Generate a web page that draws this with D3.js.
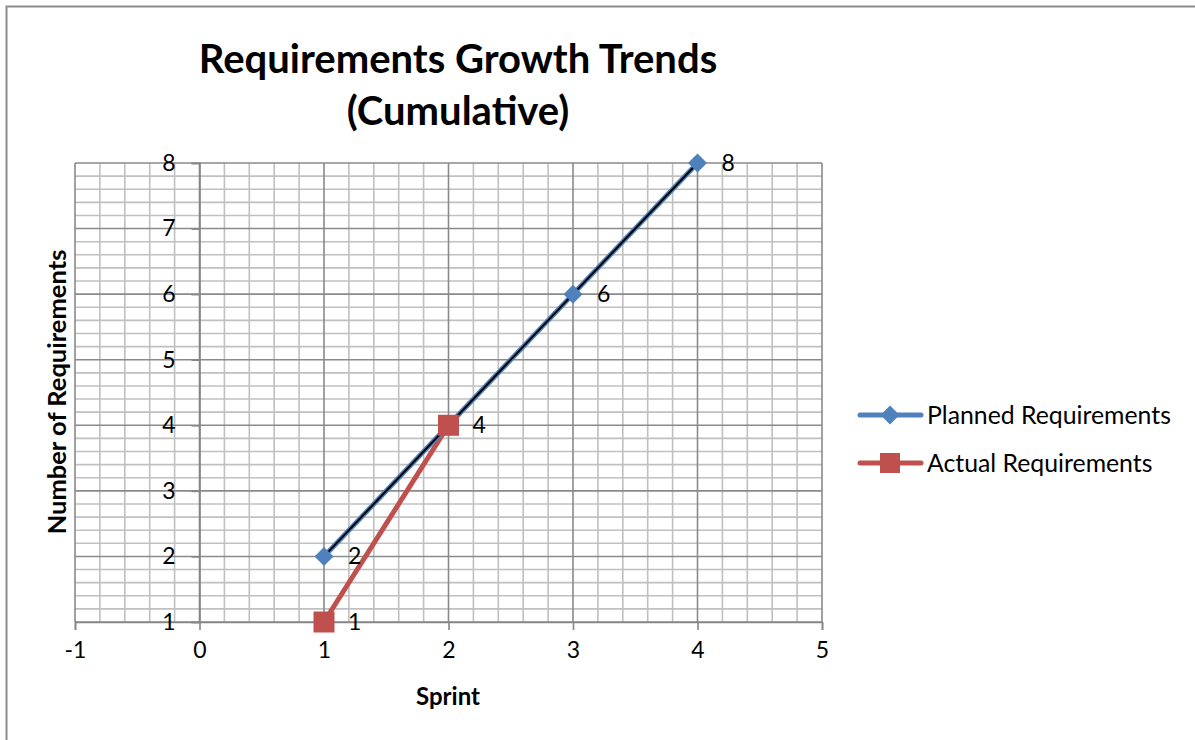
<!DOCTYPE html>
<html>
<head>
<meta charset="utf-8">
<script src="https://cdn.jsdelivr.net/npm/d3@7"></script>
<style>
  html, body { margin: 0; padding: 0; background: #fff; }
  svg { display: block; font-family: Lato, "Open Sans", sans-serif; }
</style>
</head>
<body>
<svg id="chart" width="1195" height="740"></svg>
<script>
// Sprint numbers and cumulative requirement counts
const plannedSprints = [1, 2, 3, 4];
const plannedValues = [2, 4, 6, 8];
const actualSprints = [1, 2];
const actualValues = [1, 4];
const xTickValues = [-1, 0, 1, 2, 3, 4, 5];
const yTickValues = [1, 2, 3, 4, 5, 6, 7, 8];
const seriesNames = ["Planned Requirements", "Actual Requirements"];

const planned = plannedSprints.map((s, i) => ({ x: s, y: plannedValues[i] }));
const actual = actualSprints.map((s, i) => ({ x: s, y: actualValues[i] }));

const blue = "#4f81bd";
const red = "#c0504d";

const svg = d3.select("#chart");

// outer frame
svg.append("rect")
  .attr("x", 6.5).attr("y", 6.5)
  .attr("width", 1200).attr("height", 800)
  .attr("fill", "none").attr("stroke", "#8c8c8c").attr("stroke-width", 2);

const x = d3.scaleLinear().domain([-1, 5]).range([75, 822]);
const y = d3.scaleLinear().domain([1, 8]).range([622, 163]);

// minor grid every 0.2
const xMinor = d3.range(-1, 5.0001, 0.2).map(v => +v.toFixed(1));
const yMinor = d3.range(1, 8.0001, 0.2).map(v => +v.toFixed(1));
const isInt = v => Math.abs(v - Math.round(v)) < 1e-6;

const grid = svg.append("g");
grid.selectAll("line.vminor").data(xMinor.filter(v => !isInt(v)))
  .join("line").attr("class", "vminor")
  .attr("x1", d => x(d)).attr("x2", d => x(d))
  .attr("y1", y(8)).attr("y2", y(1))
  .attr("stroke", "#c0c0c0").attr("stroke-width", 1.6);
grid.selectAll("line.hminor").data(yMinor.filter(v => !isInt(v)))
  .join("line").attr("class", "hminor")
  .attr("x1", x(-1)).attr("x2", x(5))
  .attr("y1", d => y(d)).attr("y2", d => y(d))
  .attr("stroke", "#c0c0c0").attr("stroke-width", 1.6);
grid.selectAll("line.vmajor").data(xTickValues)
  .join("line").attr("class", "vmajor")
  .attr("x1", d => x(d)).attr("x2", d => x(d))
  .attr("y1", y(8)).attr("y2", y(1))
  .attr("stroke", "#8a8a8a").attr("stroke-width", 1.6);
grid.selectAll("line.hmajor").data(yTickValues)
  .join("line").attr("class", "hmajor")
  .attr("x1", x(-1)).attr("x2", x(5))
  .attr("y1", d => y(d)).attr("y2", d => y(d))
  .attr("stroke", "#8a8a8a").attr("stroke-width", 1.6);

// x axis along the bottom, y axis crossing at sprint 0
const xAxis = d3.axisBottom(x).tickValues(xTickValues).tickSize(8).tickPadding(12)
  .tickFormat(d => String(d));
const gx = svg.append("g").attr("transform", `translate(0,${y(1)})`).call(xAxis);
gx.select(".domain").attr("stroke", "#868686").attr("stroke-width", 1.6);
gx.selectAll(".tick line").attr("stroke", "#868686").attr("stroke-width", 1.6);
gx.selectAll(".tick text").attr("font-size", 23).attr("fill", "#000")
  .attr("font-family", "Lato, sans-serif");

const yAxis = d3.axisLeft(y).tickValues(yTickValues).tickSize(8).tickPadding(16)
  .tickFormat(d => String(d));
const gy = svg.append("g").attr("transform", `translate(${x(0)},0)`).call(yAxis);
gy.select(".domain").attr("stroke", "#868686").attr("stroke-width", 1.6);
gy.selectAll(".tick line").attr("stroke", "#868686").attr("stroke-width", 1.6);
gy.selectAll(".tick text").attr("font-size", 23).attr("fill", "#000")
  .attr("font-family", "Lato, sans-serif");

const line = d3.line().x(d => x(d.x)).y(d => y(d.y));

// actual series
svg.append("path").datum(actual).attr("d", line)
  .attr("fill", "none").attr("stroke", red).attr("stroke-width", 5)
  .attr("stroke-linejoin", "round");

// planned series
svg.append("path").datum(planned).attr("d", line)
  .attr("fill", "none").attr("stroke", blue).attr("stroke-width", 5)
  .attr("stroke-linejoin", "round");

// linear trendline for planned
const mx = d3.mean(planned, d => d.x), my = d3.mean(planned, d => d.y);
const slope = d3.sum(planned, d => (d.x - mx) * (d.y - my)) / d3.sum(planned, d => (d.x - mx) ** 2);
const icpt = my - slope * mx;
const xs = d3.extent(planned, d => d.x);
svg.append("path").datum(xs.map(v => ({ x: v, y: icpt + slope * v }))).attr("d", line)
  .attr("fill", "none").attr("stroke", "#000").attr("stroke-width", 2);

// markers
const diamond = d3.symbol().type(d3.symbolDiamond2).size(230);
svg.selectAll("path.pm").data(planned).join("path").attr("class", "pm")
  .attr("d", diamond)
  .attr("transform", d => `translate(${x(d.x)},${y(d.y)})`)
  .attr("fill", blue);
svg.selectAll("rect.am").data(actual).join("rect").attr("class", "am")
  .attr("x", d => x(d.x) - 10.5).attr("y", d => y(d.y) - 10.5)
  .attr("width", 21).attr("height", 21)
  .attr("fill", red);

// data labels
const labels = planned.concat(actual.filter(a => !planned.some(p => p.x === a.x && p.y === a.y)));
svg.selectAll("text.dl").data(labels).join("text").attr("class", "dl")
  .attr("x", d => x(d.x) + 24).attr("y", d => y(d.y))
  .attr("dy", "0.35em").attr("font-size", 23).attr("fill", "#000")
  .text(d => d.y);

// titles
const title = svg.append("text").attr("text-anchor", "middle")
  .attr("font-weight", "bold").attr("font-size", 40).attr("fill", "#000");
title.append("tspan").attr("x", 458).attr("y", 73).text("Requirements Growth Trends");
title.append("tspan").attr("x", 458).attr("y", 125).text("(Cumulative)");

svg.append("text").attr("x", 448).attr("y", 705).attr("text-anchor", "middle")
  .attr("font-weight", "bold").attr("font-size", 24).text("Sprint");

svg.append("text")
  .attr("transform", `translate(66,392) rotate(-90)`)
  .attr("text-anchor", "middle")
  .attr("font-weight", "bold").attr("font-size", 25.5).text("Number of Requirements");

// legend
const legend = svg.append("g");
const legendRows = [
  { name: seriesNames[0], color: blue, shape: "diamond", cy: 415 },
  { name: seriesNames[1], color: red, shape: "square", cy: 463 }
];
legendRows.forEach(r => {
  legend.append("line").attr("x1", 860).attr("x2", 921)
    .attr("y1", r.cy).attr("y2", r.cy)
    .attr("stroke", r.color).attr("stroke-width", 5).attr("stroke-linecap", "round");
  if (r.shape === "diamond") {
    legend.append("path").attr("d", diamond)
      .attr("transform", `translate(890,${r.cy})`).attr("fill", r.color);
  } else {
    legend.append("rect").attr("x", 880).attr("y", r.cy - 10)
      .attr("width", 20).attr("height", 20).attr("fill", r.color);
  }
  legend.append("text").attr("x", 927).attr("y", r.cy).attr("dy", "0.35em")
    .attr("font-size", 24.8).attr("fill", "#000").text(r.name);
});
</script>
</body>
</html>
